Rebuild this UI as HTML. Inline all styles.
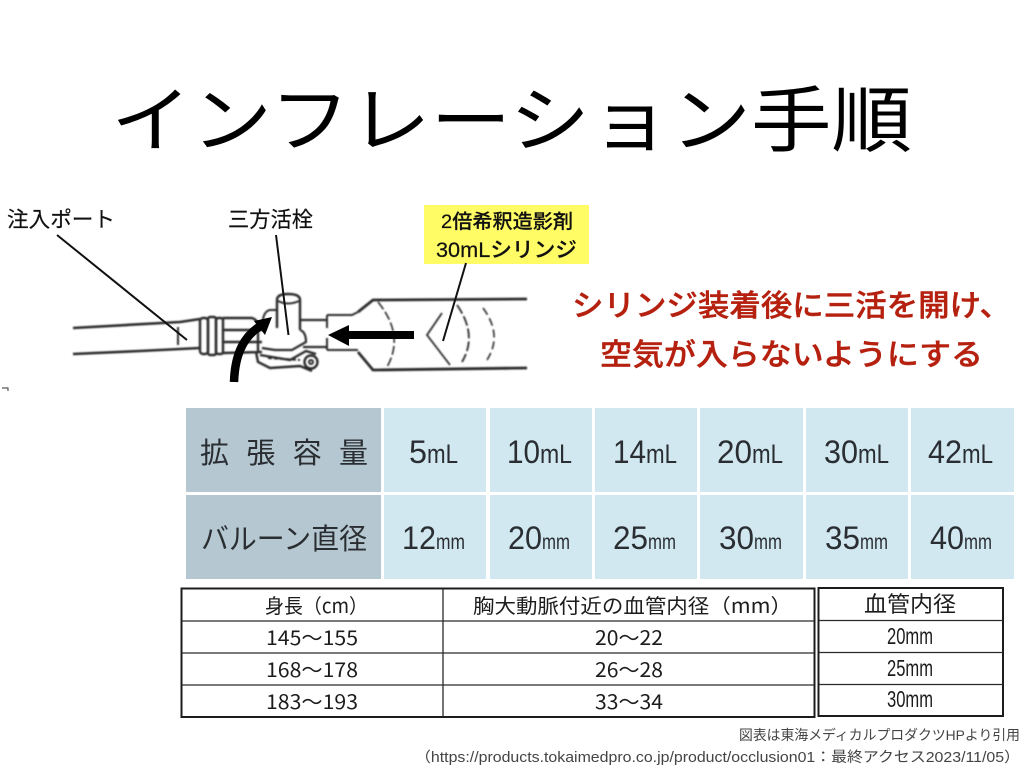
<!DOCTYPE html>
<html lang="ja">
<head>
<meta charset="utf-8">
<title>インフレーション手順</title>
<style>
html,body{margin:0;padding:0;background:#fff;width:1024px;height:768px;overflow:hidden}
svg{display:block}
text{font-family:"Liberation Sans","Noto Sans CJK JP",sans-serif}
.k{fill:#111}
.c{fill:#1c1c1c;font-size:20px;font-family:"Noto Sans CJK JP",sans-serif}
.n{fill:#2b2f33;font-size:32px}
.u{fill:#2b2f33;font-size:27px}
.v{fill:#2b2f33;font-size:21px}
</style>
</head>
<body>
<svg width="1024" height="768" viewBox="0 0 1024 768" xmlns="http://www.w3.org/2000/svg">
<defs>
<filter id="b1" x="-5%" y="-10%" width="110%" height="120%"><feGaussianBlur stdDeviation="0.8"/></filter>
<filter id="b2" x="-5%" y="-5%" width="110%" height="110%"><feGaussianBlur stdDeviation="0.35"/></filter>
</defs>
<rect width="1024" height="768" fill="#fff"/>

<!-- Title -->
<text x="111" y="146" font-size="72" fill="#000" textLength="801" lengthAdjust="spacingAndGlyphs" style="font-weight:400">インフレーション手順</text>

<!-- Device drawing -->
<g fill="none" stroke="#2a2a2a" stroke-width="2" filter="url(#b1)">
<path d="M73 328L180 322L200 319M73 354L140 351L200 348" stroke-width="2.600"/>
<path d="M178 327V345"/>
<rect x="200" y="318" width="8" height="36" rx="3" stroke-width="2.400"/>
<rect x="208" y="317" width="8" height="38" rx="2" stroke-width="2.400"/>
<rect x="216" y="318" width="7" height="36" rx="2" stroke-width="2.400"/>
<path d="M223 318L252 318Q258 320 258 326M223 330L262 330M223 342L262 342M223 353L262 352M258 330V352" stroke-width="2.400"/>
<path d="M262 330Q262 311 270 310H278"/>
<path d="M277 328V300Q277 294 288 294Q300 294 300 300V330" stroke-width="2.400"/>
<path d="M278 301Q288 306 299 301"/>
<path d="M300 320H327M303 347H327M300 330Q306 332 306 342L292 350L275 350L262 348" stroke-width="2.200"/>
<path d="M327 315H352L358 312M327 350H358M327 315V328M327 338V350"/>
<path d="M358 312L373 300L527 299" stroke-width="2.800"/>
<path d="M358 352L373 370L527 368" stroke-width="2.800"/>
<path d="M378 302Q405 335 387 367" stroke-dasharray="9 3" stroke-width="1.600"/>
<path d="M442 313L427 335L450 365" stroke-width="1.800"/>
<path d="M457 305Q478 335 462 362" stroke-dasharray="10 3" stroke-width="1.800"/>
<path d="M483 308Q503 335 487 360" stroke-dasharray="8 4" stroke-width="1.600"/>
<path d="M256 352L258 362L270 368L300 366L312 371M260 355L290 360L306 351L316 354" stroke-width="2.400"/>
<path d="M268 358L300 360" stroke-dasharray="4 2"/>
<circle cx="311" cy="362" r="6.500" stroke-width="2.400"/>
<circle cx="311" cy="362" r="2"/>
</g>
<path d="M2 388H8V391" fill="none" stroke="#333" stroke-width="1"/>

<!-- Labels -->
<text x="7" y="227" font-size="21.500" class="k" textLength="108" lengthAdjust="spacingAndGlyphs" stroke="#111" stroke-width="0.200">注入ポート</text>
<text x="228" y="227" font-size="21.500" class="k" textLength="85" lengthAdjust="spacingAndGlyphs" stroke="#111" stroke-width="0.200">三方活栓</text>
<rect x="424" y="205" width="165" height="59" fill="#FFFC66"/>
<text x="441" y="228" font-size="19.500" fill="#111" textLength="132" lengthAdjust="spacingAndGlyphs" font-weight="500" stroke="#111" stroke-width="0.200">2倍希釈造影剤</text>
<text x="436" y="257" font-size="21" fill="#111" textLength="141" lengthAdjust="spacingAndGlyphs" font-weight="500" stroke="#111" stroke-width="0.200">30mLシリンジ</text>

<!-- Leader lines -->
<g stroke="#111" stroke-width="2" fill="none">
<path d="M57 235L187 340"/>
<path d="M276 235L288.500 335"/>
<path d="M466 263L443 341"/>
</g>

<!-- Arrows -->
<rect x="348" y="331" width="66" height="8" fill="#000"/>
<polygon points="328,335 349,325 349,346" fill="#000"/>
<path d="M234 382C235 352 245 335 262 325" fill="none" stroke="#000" stroke-width="8.500"/>
<polygon points="272,317 254,321 265,335" fill="#000"/>

<!-- Red text -->
<text x="572" y="316" font-size="30" fill="#B5200F" stroke="#B5200F" stroke-width="0.400" font-weight="500" textLength="439" lengthAdjust="spacingAndGlyphs">シリンジ装着後に三活を開け、</text>
<text x="600" y="365" font-size="30" fill="#B5200F" stroke="#B5200F" stroke-width="0.400" font-weight="500" textLength="383" lengthAdjust="spacingAndGlyphs">空気が入らないようにする</text>

<!-- Blue table -->
<g>
<rect x="186" y="408" width="195" height="84" fill="#B5C8D1"/>
<rect x="186" y="495" width="195" height="84" fill="#B5C8D1"/>
<g fill="#D1E8F1">
<rect x="384" y="408" width="102" height="84"/><rect x="490" y="408" width="102" height="84"/><rect x="595" y="408" width="102" height="84"/><rect x="700" y="408" width="103" height="84"/><rect x="806" y="408" width="102" height="84"/><rect x="911" y="408" width="103" height="84"/>
<rect x="384" y="495" width="102" height="84"/><rect x="490" y="495" width="102" height="84"/><rect x="595" y="495" width="102" height="84"/><rect x="700" y="495" width="103" height="84"/><rect x="806" y="495" width="102" height="84"/><rect x="911" y="495" width="103" height="84"/>
</g>
<g filter="url(#b2)">
<text x="200" y="463" font-size="29" fill="#2b2f33" textLength="168">拡張容量</text>
<text x="201" y="549" font-size="29" fill="#2b2f33" textLength="166" lengthAdjust="spacingAndGlyphs">バルーン直径</text>
<text x="409" y="463" class="n" textLength="18" lengthAdjust="spacingAndGlyphs">5</text><text x="427" y="463" class="u" textLength="31" lengthAdjust="spacingAndGlyphs">mL</text>
<text x="507" y="463" class="n" textLength="33" lengthAdjust="spacingAndGlyphs">10</text><text x="540" y="463" class="u" textLength="32" lengthAdjust="spacingAndGlyphs">mL</text>
<text x="613" y="463" class="n" textLength="33" lengthAdjust="spacingAndGlyphs">14</text><text x="646" y="463" class="u" textLength="31" lengthAdjust="spacingAndGlyphs">mL</text>
<text x="717" y="463" class="n" textLength="35" lengthAdjust="spacingAndGlyphs">20</text><text x="752" y="463" class="u" textLength="31" lengthAdjust="spacingAndGlyphs">mL</text>
<text x="824" y="463" class="n" textLength="34" lengthAdjust="spacingAndGlyphs">30</text><text x="858" y="463" class="u" textLength="31" lengthAdjust="spacingAndGlyphs">mL</text>
<text x="928" y="463" class="n" textLength="34" lengthAdjust="spacingAndGlyphs">42</text><text x="962" y="463" class="u" textLength="31" lengthAdjust="spacingAndGlyphs">mL</text>
<text x="402" y="549" class="n" textLength="34" lengthAdjust="spacingAndGlyphs">12</text><text x="436" y="549" class="v" textLength="29" lengthAdjust="spacingAndGlyphs">mm</text>
<text x="508" y="549" class="n" textLength="34" lengthAdjust="spacingAndGlyphs">20</text><text x="542" y="549" class="v" textLength="28" lengthAdjust="spacingAndGlyphs">mm</text>
<text x="613" y="549" class="n" textLength="35" lengthAdjust="spacingAndGlyphs">25</text><text x="648" y="549" class="v" textLength="28" lengthAdjust="spacingAndGlyphs">mm</text>
<text x="719" y="549" class="n" textLength="35" lengthAdjust="spacingAndGlyphs">30</text><text x="754" y="549" class="v" textLength="28" lengthAdjust="spacingAndGlyphs">mm</text>
<text x="825" y="549" class="n" textLength="35" lengthAdjust="spacingAndGlyphs">35</text><text x="860" y="549" class="v" textLength="28" lengthAdjust="spacingAndGlyphs">mm</text>
<text x="930" y="549" class="n" textLength="34" lengthAdjust="spacingAndGlyphs">40</text><text x="964" y="549" class="v" textLength="28" lengthAdjust="spacingAndGlyphs">mm</text>
</g>
</g>

<!-- Height table -->
<rect x="181.500" y="588.500" width="633" height="128.500" fill="#fff" stroke="#1c1c1c" stroke-width="2"/>
<g stroke="#2a2a2a" stroke-width="1.300" fill="none">
<path d="M443 589V717M182 621H814M182 653H814M182 685H814"/>
</g>
<g filter="url(#b2)">
<text x="265" y="613" class="c" textLength="103" lengthAdjust="spacingAndGlyphs">身長（cm）</text>
<text x="473" y="613" class="c" textLength="319" lengthAdjust="spacingAndGlyphs">胸大動脈付近の血管内径（mm）</text>
<text x="266" y="645" class="c" textLength="92" lengthAdjust="spacingAndGlyphs">145〜155</text>
<text x="266" y="677" class="c" textLength="92" lengthAdjust="spacingAndGlyphs">168〜178</text>
<text x="266" y="709" class="c" textLength="92" lengthAdjust="spacingAndGlyphs">183〜193</text>
<text x="595" y="645" class="c" textLength="68" lengthAdjust="spacingAndGlyphs">20〜22</text>
<text x="595" y="677" class="c" textLength="68" lengthAdjust="spacingAndGlyphs">26〜28</text>
<text x="595" y="709" class="c" textLength="68" lengthAdjust="spacingAndGlyphs">33〜34</text>
</g>

<!-- Diameter table -->
<rect x="818.500" y="588" width="184.500" height="128" fill="#fff" stroke="#1c1c1c" stroke-width="2"/>
<path d="M819 620.500H1003M819 652.500H1003M819 684.500H1003" stroke="#2a2a2a" stroke-width="1.300" fill="none"/>
<g filter="url(#b2)">
<text x="864" y="612" font-size="22" fill="#1c1c1c" textLength="92" lengthAdjust="spacingAndGlyphs">血管内径</text>
<text x="887" y="644" font-size="23" fill="#1c1c1c" textLength="46" lengthAdjust="spacingAndGlyphs">20mm</text>
<text x="887" y="676" font-size="23" fill="#1c1c1c" textLength="46" lengthAdjust="spacingAndGlyphs">25mm</text>
<text x="887" y="707" font-size="23" fill="#1c1c1c" textLength="46" lengthAdjust="spacingAndGlyphs">30mm</text>
</g>

<!-- Footer -->
<text x="739" y="740" font-size="14" fill="#444" textLength="281" lengthAdjust="spacingAndGlyphs">図表は東海メディカルプロダクツHPより引用</text>
<text x="415" y="762" font-size="14.500" fill="#444" textLength="605" lengthAdjust="spacingAndGlyphs">（https://products.tokaimedpro.co.jp/product/occlusion01：最終アクセス2023/11/05）</text>
</svg>
</body>
</html>
